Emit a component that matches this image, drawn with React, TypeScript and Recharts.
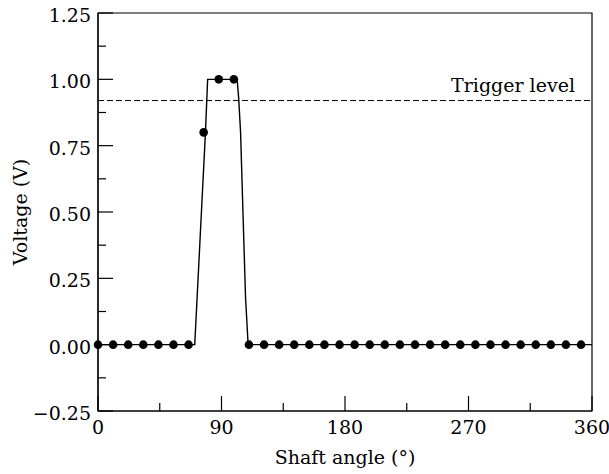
import { ComposedChart, Line, Scatter, XAxis, YAxis, ReferenceLine, ReferenceArea } from 'recharts';

// sampled points (every 11 degrees)
const sampleAngles = [
  0, 11, 22, 33, 44, 55, 66, 77, 88, 99, 110, 121, 132, 143, 154, 165, 176,
  187, 198, 209, 220, 231, 242, 253, 264, 275, 286, 297, 308, 319, 330, 341, 352,
];
const sampleVolts = [
  0, 0, 0, 0, 0, 0, 0, 0.8, 1.0, 1.0, 0, 0, 0, 0, 0, 0, 0,
  0, 0, 0, 0, 0, 0, 0, 0, 0, 0, 0, 0, 0, 0, 0, 0,
];

// continuous sensor trace
const traceAngles = [0, 70.5, 78.3, 79.9, 101.4, 102.5, 103.9, 107.5, 109.4, 360];
const traceVolts = [0, 0, 0.8, 1.0, 1.0, 0.93, 0.8, 0.18, 0, 0];

const xTicks = [0, 45, 90, 135, 180, 225, 270, 315, 360];
const xLabels = [0, 90, 180, 270, 360];
const yTicks = [-0.25, -0.125, 0, 0.125, 0.25, 0.375, 0.5, 0.625, 0.75, 0.875, 1.0, 1.125, 1.25];
const yLabels = [-0.25, 0, 0.25, 0.5, 0.75, 1.0, 1.25];

const triggerLevel = 0.92;
const triggerLabel = 'Trigger level';

const samples = sampleAngles.map((angle, i) => ({ angle, volts: sampleVolts[i] }));
const trace = traceAngles.map((angle, i) => ({ angle, volts: traceVolts[i] }));

const FONT = '"DejaVu Serif", serif';
const FS = 19;

const XTick = (props: any) => {
  const { x, y, payload } = props;
  const major = xLabels.includes(payload.value);
  return (
    <g>
      <line x1={x} x2={x} y1={y} y2={y - (major ? 15 : 8)} stroke="#000" strokeWidth={1.2} />
      {major && (
        <text x={x} y={y + 23} textAnchor="middle" fontSize={FS} fontFamily={FONT} fill="#000">
          {payload.value}
        </text>
      )}
    </g>
  );
};

const YTick = (props: any) => {
  const { x, y, payload } = props;
  const major = yLabels.includes(payload.value);
  const label = Number(payload.value).toFixed(2).replace('-', '\u2212');
  return (
    <g>
      <line x1={x} x2={x + (major ? 15 : 8)} y1={y} y2={y} stroke="#000" strokeWidth={1.2} />
      {major && (
        <text x={x - 7} y={y + 9} textAnchor="end" fontSize={FS} fontFamily={FONT} fill="#000">
          {label}
        </text>
      )}
    </g>
  );
};

const Dot = (props: any) => <circle cx={props.cx} cy={props.cy} r={4.3} fill="#000" />;

export default function App() {
  return (
    <div style={{ fontFamily: FONT, position: 'absolute', top: 0, left: 0, width: 609, height: 474 }}>
      <ComposedChart width={609} height={474} margin={{ top: 13, right: 17, left: 0, bottom: 0 }}>
        <XAxis
          type="number"
          dataKey="angle"
          domain={[0, 360]}
          ticks={xTicks}
          interval={0}
          tickSize={0}
          tickMargin={0}
          tick={<XTick />}
          axisLine={{ stroke: '#000', strokeWidth: 1.2 }}
          height={63}
          label={{ value: 'Shaft angle (°)', position: 'insideBottom', offset: 10, fontSize: FS, fontFamily: FONT, fill: '#000' }}
        />
        <YAxis
          type="number"
          dataKey="volts"
          domain={[-0.25, 1.25]}
          ticks={yTicks}
          interval={0}
          tickSize={0}
          tickMargin={0}
          tick={<YTick />}
          axisLine={{ stroke: '#000', strokeWidth: 1.2 }}
          width={98}
          label={{ value: 'Voltage (V)', angle: -90, position: 'insideLeft', offset: 20, style: { textAnchor: 'middle' }, fontSize: FS, fontFamily: FONT, fill: '#000' }}
        />
        <ReferenceArea x1={0} x2={360} y1={-0.25} y2={1.25} fill="none" stroke="#000" strokeWidth={1.2} />
        <ReferenceLine
          y={triggerLevel}
          stroke="#000"
          strokeWidth={1}
          strokeDasharray="6 3"
          label={(p: any) => (
            <text
              x={p.viewBox.x + p.viewBox.width - 17}
              y={p.viewBox.y - 9}
              textAnchor="end"
              fontSize={FS}
              fontFamily={FONT}
              fill="#000"
            >
              {triggerLabel}
            </text>
          )}
        />
        <Line data={trace} dataKey="volts" type="linear" stroke="#000" strokeWidth={1.4} dot={false} isAnimationActive={false} />
        <Scatter data={samples} dataKey="volts" shape={<Dot />} isAnimationActive={false} />
      </ComposedChart>
    </div>
  );
}
